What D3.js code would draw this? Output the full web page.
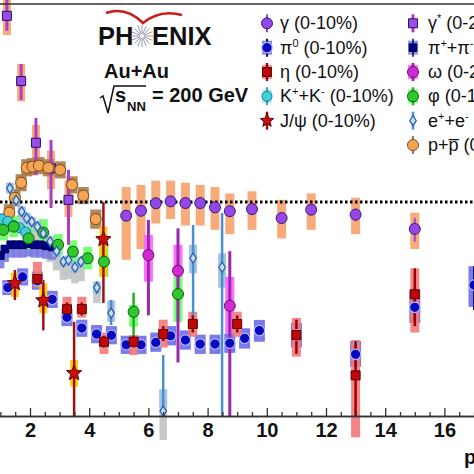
<!DOCTYPE html>
<html><head><meta charset="utf-8">
<script src="https://cdn.jsdelivr.net/npm/d3@7"></script>
<style>body{margin:0;background:#fff}svg{display:block;font-family:"Liberation Sans",Arial,sans-serif}</style>
</head><body>
<svg id="c" width="474" height="474"></svg>
<script>
// rows: [pT, R, statLo, statHi, sysLo, sysHi]
const gammaStarRows = [
  [1.22,1.87,1.80,1.95,1.78,1.97],
  [1.70,1.565,1.477,1.645,1.47,1.645],
  [2.20,1.277,1.126,1.393,1.20,1.36],
  [2.71,1.157,0.972,1.29,1.06,1.24],
  [3.30,1.01,0.80,1.15,0.93,1.10]
];
const gammaRows = [
  [5.25,0.936,0.92,0.95,0.73,1.07],
  [5.75,0.959,0.94,0.98,0.78,1.08],
  [6.25,0.994,0.98,1.01,0.90,1.10],
  [6.75,1.003,0.99,1.02,0.92,1.10],
  [7.25,0.995,0.98,1.01,0.89,1.09],
  [7.75,0.995,0.98,1.01,0.89,1.08],
  [8.25,0.975,0.96,0.99,0.87,1.07],
  [8.75,0.957,0.94,0.97,0.85,1.04],
  [9.5,0.967,0.95,0.985,0.87,1.05],
  [10.5,0.925,0.90,0.95,0.83,1.01],
  [11.5,0.964,0.94,0.99,0.87,1.04],
  [13,0.941,0.91,0.97,0.85,1.02],
  [15,0.874,0.815,0.925,0.78,0.95]
];
const ppbarRows = [
  [1.30,0.95,0.94,0.96,0.91,0.99],
  [1.49,1.02,1.01,1.03,0.98,1.06],
  [1.70,1.09,1.08,1.10,1.05,1.13],
  [1.89,1.16,1.15,1.17,1.12,1.20],
  [2.08,1.165,1.155,1.175,1.125,1.205],
  [2.30,1.17,1.16,1.18,1.13,1.21],
  [2.62,1.16,1.15,1.17,1.12,1.20],
  [3.02,1.15,1.14,1.16,1.11,1.19],
  [3.42,1.08,1.07,1.09,1.04,1.12],
  [3.80,1.03,1.02,1.04,0.99,1.07],
  [4.22,0.92,0.91,0.93,0.875,0.965]
];
const kaonRows = [
  [1.05,0.92,0.91,0.93,0.89,0.95],
  [1.25,0.91,0.90,0.92,0.88,0.94],
  [1.45,0.89,0.88,0.90,0.86,0.92],
  [1.65,0.88,0.87,0.89,0.85,0.91],
  [1.85,0.86,0.85,0.87,0.83,0.89]
];
const pipmRows = [
  [1.00,0.75,0.74,0.76,0.69,0.77],
  [1.15,0.78,0.77,0.79,0.72,0.80],
  [1.35,0.80,0.79,0.81,0.74,0.82],
  [1.55,0.80,0.79,0.81,0.74,0.82],
  [1.75,0.80,0.79,0.81,0.74,0.82],
  [1.95,0.805,0.795,0.815,0.745,0.825],
  [2.15,0.80,0.79,0.81,0.74,0.82],
  [2.35,0.80,0.79,0.81,0.74,0.82],
  [2.55,0.795,0.785,0.805,0.735,0.815],
  [2.75,0.79,0.78,0.80,0.73,0.81]
];
const phiRows = [
  [1.10,0.87,0.86,0.88,0.82,0.92],
  [1.45,0.885,0.875,0.895,0.835,0.935],
  [1.95,0.83,0.82,0.84,0.78,0.88],
  [2.45,0.857,0.845,0.87,0.80,0.92],
  [2.95,0.80,0.79,0.81,0.75,0.85],
  [3.45,0.768,0.755,0.78,0.715,0.82],
  [3.95,0.737,0.72,0.755,0.685,0.79],
  [4.5,0.721,0.69,0.75,0.65,0.80],
  [5.5,0.487,0.37,0.576,0.417,0.519],
  [7.0,0.57,0.44,0.65,0.44,0.65]
];
const eeRows = [
  [1.32,1.064,1.05,1.08,1.04,1.09],
  [1.53,1.009,0.995,1.025,0.985,1.035],
  [1.72,0.955,0.94,0.97,0.93,0.98],
  [1.89,0.924,0.91,0.94,0.90,0.95],
  [2.06,0.908,0.895,0.92,0.885,0.93],
  [2.25,0.885,0.87,0.90,0.86,0.91],
  [2.45,0.853,0.84,0.87,0.83,0.875],
  [2.68,0.815,0.80,0.83,0.79,0.84],
  [2.90,0.77,0.755,0.785,0.745,0.795],
  [3.13,0.721,0.705,0.74,0.70,0.745],
  [3.30,0.729,0.71,0.745,0.705,0.75],
  [3.52,0.695,0.675,0.715,0.67,0.72],
  [3.72,0.721,0.70,0.74,0.695,0.745],
  [4.26,0.60,0.57,0.63,0.575,0.625],
  [4.74,0.481,0.425,0.542,0.44,0.54],
  [6.50,0.023,0.0,0.285,0.036,0.125],
  [7.51,0.738,0.417,0.893,0.667,0.80],
  [8.49,0.695,0.0,0.949,0.60,0.76]
];
// [pT, lo, hi]
const eeGrayBoxes = [
  [1.72,0.88,0.97],
  [1.89,0.85,0.94],
  [2.06,0.83,0.925],
  [2.25,0.80,0.90],
  [2.45,0.77,0.87],
  [2.68,0.72,0.83],
  [2.90,0.68,0.78],
  [3.13,0.636,0.74],
  [3.30,0.64,0.745],
  [3.52,0.62,0.715],
  [3.72,0.63,0.74],
  [4.26,0.527,0.628],
  [6.50,-0.112,0.036]
];
const omegaRows = [
  [6.0,0.752,0.47,0.916,0.628,0.846],
  [7.0,0.679,0.25,0.877,0.65,0.80],
  [8.75,0.515,0.0,0.77,0.385,0.65]
];
const pi0Rows = [
  [1.25,0.60,0.59,0.61,0.565,0.635],
  [1.75,0.65,0.64,0.66,0.61,0.69],
  [2.25,0.632,0.62,0.645,0.59,0.675],
  [2.75,0.545,0.535,0.555,0.505,0.585],
  [3.25,0.461,0.45,0.47,0.42,0.50],
  [3.75,0.411,0.40,0.42,0.37,0.45],
  [4.25,0.383,0.375,0.39,0.34,0.425],
  [4.75,0.377,0.37,0.385,0.335,0.42],
  [5.25,0.333,0.325,0.34,0.29,0.375],
  [5.75,0.333,0.325,0.34,0.29,0.375],
  [6.25,0.344,0.335,0.355,0.30,0.39],
  [6.75,0.375,0.365,0.385,0.33,0.42],
  [7.25,0.355,0.345,0.365,0.31,0.40],
  [7.75,0.336,0.325,0.345,0.29,0.38],
  [8.25,0.336,0.325,0.345,0.29,0.38],
  [8.75,0.34,0.33,0.35,0.295,0.385],
  [9.25,0.363,0.35,0.375,0.315,0.41],
  [9.75,0.399,0.385,0.41,0.347,0.449],
  [11,0.379,0.355,0.40,0.32,0.435],
  [13,0.288,0.23,0.35,0.23,0.35],
  [15,0.508,0.44,0.58,0.435,0.589],
  [17,0.612,0.495,0.70,0.51,0.70]
];
const etaRows = [
  [2.25,0.64,0.62,0.66,0.60,0.72],
  [3.25,0.499,0.47,0.53,0.46,0.557],
  [3.75,0.50,0.47,0.53,0.46,0.557],
  [4.5,0.347,0.32,0.375,0.29,0.39],
  [5.5,0.347,0.32,0.375,0.285,0.378],
  [6.5,0.383,0.35,0.42,0.32,0.45],
  [7.5,0.43,0.39,0.47,0.37,0.487],
  [9.0,0.43,0.39,0.47,0.37,0.487],
  [11.0,0.378,0.29,0.45,0.277,0.458],
  [13.0,0.19,0.0,0.33,-0.10,0.355],
  [15.0,0.569,0.42,0.69,0.39,0.69]
];
const jpsiRows = [
  [1.49,0.62,0.542,0.682,0.556,0.668],
  [2.45,0.54,0.40,0.636,0.48,0.62],
  [3.49,0.20,0.0,0.44,0.137,0.262],
  [4.48,0.826,0.528,1.0,0.65,0.885]
];
const xMajorTicks = [2,4,6,8,10,12,14,16];
const legendCol1 = ["γ (0-10%)","π0 (0-10%)","η (0-10%)","K+K (0-10%)","J/ψ (0-10%)"];
const legendCol2 = ["γ* (0-20%)","π+π (0-10%)","ω (0-20%)","φ (0-10%)","e+e (0-10%)","p+p (0-10%)"];

const svg = d3.select("#c");
const x = d3.scaleLinear().domain([0,18]).range([-29.2,503.6]);
const y = d3.scaleLinear().domain([0,1]).range([416,202]);

function markerPath(shape,s){
  if(shape==="circle") return d3.symbol(d3.symbolCircle,Math.PI*s*s)();
  if(shape==="square") return `M${-s},${-s}h${2*s}v${2*s}h${-2*s}Z`;
  if(shape==="diamond") return `M0,${-s}L${s*0.65},0L0,${s}L${-s*0.65},0Z`;
  if(shape==="star"){
    let p="";
    for(let i=0;i<10;i++){
      const r=i%2===0?s:s*0.45, a=-Math.PI/2+i*Math.PI/5;
      p+=(i?"L":"M")+(r*Math.cos(a)).toFixed(2)+","+(r*Math.sin(a)).toFixed(2);
    }
    return p+"Z";
  }
}

const styles = {
  gammaStar:{rows:gammaStarRows,shape:"square",s:4.5,fill:"#9a4ee8",stroke:"#2a1060",sw:1,stat:"#b03cc0",statW:3,sys:"#f4a36e",bw:4},
  gamma:{rows:gammaRows,shape:"circle",s:5.5,fill:"#9348e6",stroke:"#3a1a80",sw:1,stat:"#9b4ad0",statW:2,sys:"#f6a16b",bw:4.5},
  ppbar:{rows:ppbarRows,shape:"circle",s:5.5,fill:"#f5a650",stroke:"#7a4a20",sw:1,stat:"#7a4a20",statW:1.5,sys:"#a87a4e",bw:5.5},
  kaon:{rows:kaonRows,shape:"circle",s:5,fill:"#40d0d8",stroke:"#1a7a8a",sw:1,stat:"#1a7a8a",statW:1.5,sys:"#a0e8f0",bw:5},
  pipm:{rows:pipmRows,shape:"square",s:3.8,fill:"#000088",stroke:"#000050",sw:1,stat:"#000050",statW:1.5,sys:"#7a7ae0",bw:4},
  phi:{rows:phiRows,shape:"circle",s:5.5,fill:"#2ec82e",stroke:"#105a10",sw:1,stat:"#20b020",statW:2.5,sys:"#66ff66",bw:4.5},
  ee:{rows:eeRows,shape:"diamond",s:5,fill:"#c8dcf4",stroke:"#2a64b0",sw:1.3,stat:"#4a8fd0",statW:2.5,sys:"#9cbde0",bw:4},
  omega:{rows:omegaRows,shape:"circle",s:5.5,fill:"#d22ad2",stroke:"#6a106a",sw:1,stat:"#9a28aa",statW:3,sys:"#ff5cff",bw:4.5},
  pi0:{rows:pi0Rows,shape:"circle",s:5.2,fill:"#0808c0",stroke:"#b0b8ff",sw:1.2,stat:"#101050",statW:2,sys:"#6b6be8",bw:5.5},
  eta:{rows:etaRows,shape:"square",s:4.5,fill:"#c00808",stroke:"#5a0000",sw:1,stat:"#a00000",statW:2.5,sys:"#f27a7a",bw:4.5},
  jpsi:{rows:jpsiRows,shape:"star",s:8,fill:"#c81010",stroke:"#600000",sw:1,stat:"#a01010",statW:2.5,sys:"#ffc400",bw:4}
};
const order = ["gammaStar","gamma","ppbar","kaon","pipm","phi","ee","omega","pi0","eta","jpsi"];

const gGray = svg.append("g"), gSys = svg.append("g"), gDot = svg.append("g"),
      gStat = svg.append("g"), gMark = svg.append("g");

gGray.selectAll("rect").data(eeGrayBoxes).join("rect")
  .attr("x",d=>x(d[0])-3.8).attr("width",7.6)
  .attr("y",d=>y(d[2])).attr("height",d=>y(d[1])-y(d[2]))
  .attr("fill","#c8c8c8");

order.forEach(k=>{
  const st=styles[k];
  gSys.append("g").selectAll("rect").data(st.rows).join("rect")
    .attr("x",d=>x(d[0])-st.bw).attr("width",2*st.bw)
    .attr("y",d=>y(d[5])).attr("height",d=>y(d[4])-y(d[5]))
    .attr("fill",st.sys).attr("opacity",0.9);
  gStat.append("g").selectAll("line").data(st.rows).join("line")
    .attr("x1",d=>x(d[0])).attr("x2",d=>x(d[0]))
    .attr("y1",d=>y(Math.max(d[2],0))).attr("y2",d=>y(d[3]))
    .attr("stroke",st.stat).attr("stroke-width",st.statW);
  gMark.append("g").selectAll("path").data(st.rows).join("path")
    .attr("transform",d=>`translate(${x(d[0])},${y(d[1])})`)
    .attr("d",markerPath(st.shape,st.s))
    .attr("fill",st.fill).attr("stroke",st.stroke).attr("stroke-width",st.sw);
});

// unity line
gDot.append("line").attr("x1",0).attr("x2",474).attr("y1",y(1)).attr("y2",y(1))
  .attr("stroke","#000").attr("stroke-width",3).attr("stroke-dasharray","2.5,2.5");

// top frame
svg.append("line").attr("x1",0).attr("x2",474).attr("y1",4).attr("y2",4).attr("stroke","#333").attr("stroke-width",1.5);

// x axis
const minor = d3.range(1,18.01,0.5).filter(v=>!xMajorTicks.includes(v));
const ax1 = svg.append("g").attr("transform","translate(0,416)")
  .call(d3.axisBottom(x).tickValues(minor).tickSize(-4).tickSizeOuter(0).tickFormat(""));
const ax2 = svg.append("g").attr("transform","translate(0,416)")
  .call(d3.axisBottom(x).tickValues(xMajorTicks).tickSize(-8).tickSizeOuter(0).tickPadding(7).tickFormat(d3.format("d")));
[ax1,ax2].forEach(a=>{
  a.select(".domain").attr("stroke","#333").attr("stroke-width",1.5);
  a.selectAll(".tick line").attr("stroke","#333").attr("stroke-width",1.3);
});
ax2.selectAll("text").attr("font-size",20).attr("font-weight","bold").attr("fill","#111")
  .attr("font-family",'"Liberation Sans",Arial,sans-serif');

const xl = svg.append("text").attr("x",464).attr("y",464).attr("font-size",20).attr("font-weight","bold").attr("fill","#111");
xl.append("tspan").text("p");
xl.append("tspan").attr("dy",5).attr("font-size",14).text("T");
xl.append("tspan").attr("dy",-5).text(" (GeV/c)");

// PHENIX logo
svg.append("path").attr("d","M106,13 Q126,6 143,23 Q160,9 182,15")
  .attr("fill","none").attr("stroke","#d01818").attr("stroke-width",2.5);
svg.append("text").attr("x",98).attr("y",45).attr("font-size",25.5).attr("font-weight","bold").attr("fill","#111").text("PH");
svg.append("text").attr("x",152).attr("y",45).attr("font-size",25.5).attr("font-weight","bold").attr("fill","#111").text("ENIX");
const burst = svg.append("g").attr("transform","translate(142,36)");
d3.range(16).forEach(i=>{
  const a=i*Math.PI/8;
  burst.append("line").attr("x1",2*Math.cos(a)).attr("y1",2*Math.sin(a))
    .attr("x2",11*Math.cos(a)).attr("y2",11*Math.sin(a))
    .attr("stroke","#9a9aa6").attr("stroke-width",1);
});
svg.append("text").attr("x",104).attr("y",78).attr("font-size",20).attr("font-weight","bold").attr("fill","#111").text("Au+Au");
svg.append("path").attr("d","M100,98 L103,96 L108,113 L114,86 L146,86")
  .attr("fill","none").attr("stroke","#111").attr("stroke-width",1.5);
svg.append("text").attr("x",115).attr("y",102).attr("font-size",20).attr("font-weight","bold").attr("fill","#111").text("s");
svg.append("text").attr("x",127).attr("y",111).attr("font-size",13).attr("font-weight","bold").attr("fill","#111").text("NN");
svg.append("text").attr("x",152).attr("y",102).attr("font-size",20).attr("font-weight","bold").attr("fill","#111").text("= 200 GeV");

// legend
const rowY = i=>23.3+24.35*i;
const legKeys1 = ["gamma","pi0","eta","kaon","jpsi"];
const legKeys2 = ["gammaStar","pipm","omega","phi","ee","ppbar"];
function legendMarker(k,cx,cy){
  const st=styles[k];
  const g=svg.append("g").attr("transform",`translate(${cx},${cy})`);
  if(k==="pi0"||k==="eta"||k==="kaon"||k==="pipm"||k==="phi"||k==="omega")
    g.append("rect").attr("x",-5).attr("y",-7).attr("width",10).attr("height",14).attr("fill",st.sys).attr("opacity",0.8);
  g.append("line").attr("y1",-9).attr("y2",9).attr("stroke",st.stat).attr("stroke-width",st.statW);
  g.append("path").attr("d",markerPath(st.shape,k==="jpsi"?7:st.s)).attr("fill",st.fill).attr("stroke",st.stroke).attr("stroke-width",st.sw);
}
function legendText(tx,ty,label){
  const t=svg.append("text").attr("x",tx).attr("y",ty).attr("font-size",18).attr("fill","#111");
  const sup=(s)=>t.append("tspan").attr("dy",-7).attr("font-size",11).text(s);
  const back=(s)=>t.append("tspan").attr("dy",7).attr("font-size",18).text(s);
  if(label.startsWith("π0")){t.append("tspan").text("π");sup("0");back(label.slice(2));}
  else if(label.startsWith("K+K")){t.append("tspan").text("K");sup("+");back("+K");sup("-");back(label.slice(3));}
  else if(label.startsWith("π+π")){t.append("tspan").text("π");sup("+");back("+π");sup("-");back(label.slice(3));}
  else if(label.startsWith("e+e")){t.append("tspan").text("e");sup("+");back("+e");sup("-");back(label.slice(3));}
  else if(label.startsWith("p+p")){t.append("tspan").text("p+p\u0305");t.append("tspan").text(label.slice(3));}
  else if(label.startsWith("γ*")){t.append("tspan").text("γ");sup("*");back(label.slice(2));}
  else t.text(label);
}
legendCol1.forEach((lab,i)=>{legendMarker(legKeys1[i],267,rowY(i));legendText(280,rowY(i)+6,lab);});
legendCol2.forEach((lab,i)=>{legendMarker(legKeys2[i],413,rowY(i));legendText(428,rowY(i)+6,lab);});
</script>
</body></html>
